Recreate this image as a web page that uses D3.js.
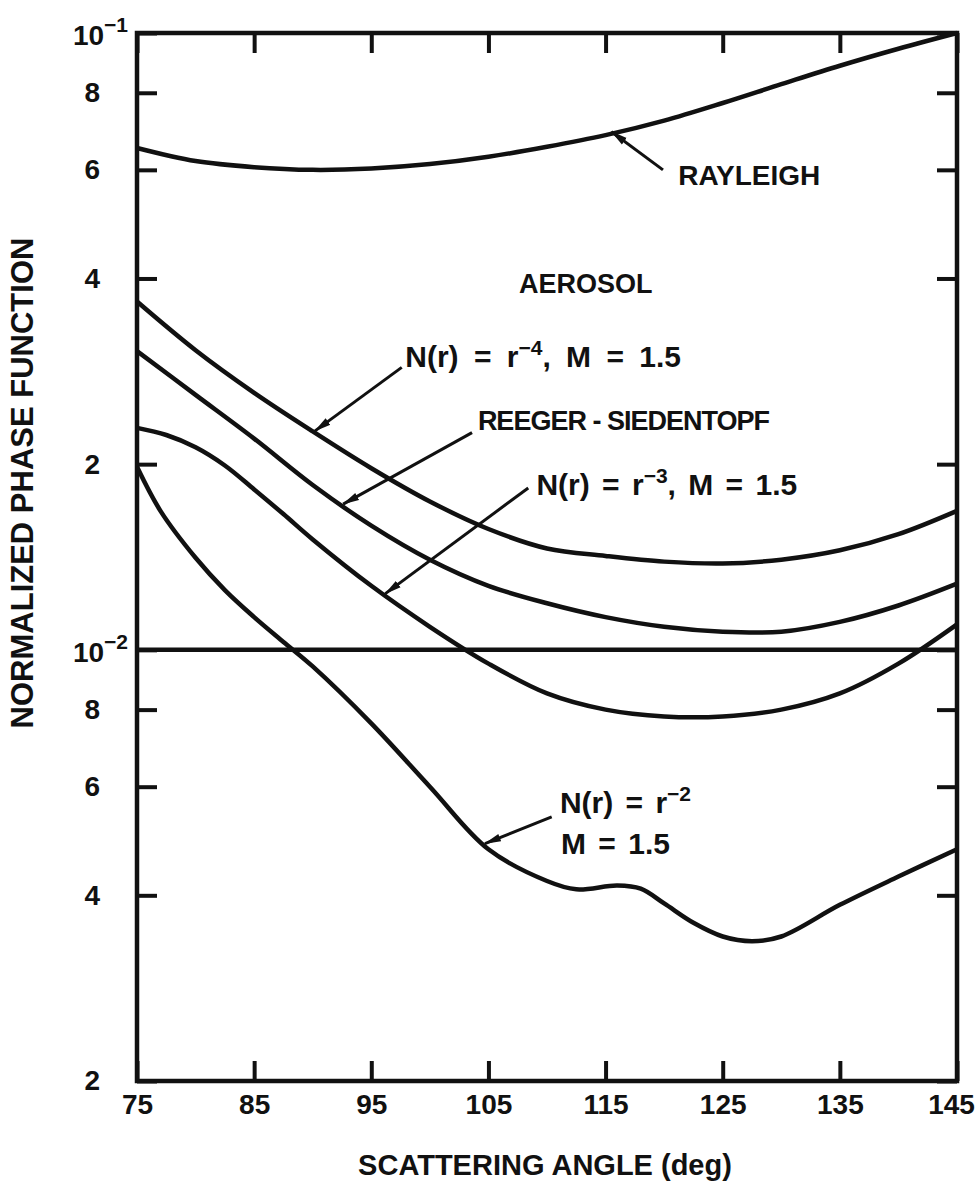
<!DOCTYPE html>
<html lang="en">
<head>
<meta charset="UTF-8">
<title>Normalized phase function vs scattering angle</title>
<script src="https://d3js.org/d3.v7.min.js"></script>
<style>
  body { margin: 0; background: #fff; }
  svg text { font-family: "Liberation Sans", Arial, sans-serif; font-weight: bold; fill: #111; }
</style>
</head>
<body>
<script>
// scattering angles (deg) the curves were read at
const angles = [75, 80, 85, 90, 95, 100, 105, 110, 115, 120, 125, 130, 135, 140, 145];

const rayleigh         = [0.0651, 0.0620, 0.0606, 0.0600, 0.0603, 0.0613, 0.0630, 0.0654, 0.0683, 0.0721, 0.0770, 0.0826, 0.0885, 0.0943, 0.1000];
const powerLaw4        = [0.0367, 0.0306, 0.0261, 0.0226, 0.0197, 0.0174, 0.0157, 0.0146, 0.0142, 0.0139, 0.0138, 0.0140, 0.0145, 0.0154, 0.0168];
const reegerSiedentopf = [0.0305, 0.0259, 0.0220, 0.0185, 0.0159, 0.0140, 0.0127, 0.0119, 0.0113, 0.0109, 0.0107, 0.0107, 0.0111, 0.0118, 0.0128];

// r^-3 curve has a rounded shoulder at the left, read at finer steps there
const anglesR3  = [75, 77.5, 80, 82.5, 85, 87.5, 90, 95, 100, 105, 110, 115, 120, 125, 130, 135, 140, 145];
const powerLaw3 = [0.0229, 0.0223, 0.0213, 0.0199, 0.0182, 0.0166, 0.0151, 0.0127, 0.0109, 0.0095, 0.0085, 0.0080, 0.0078, 0.0078, 0.0080, 0.0085, 0.0095, 0.0110];

// r^-2 curve has a small bump, read at finer steps
const anglesR2  = [75, 77, 80, 82.5, 85, 87.5, 90, 95, 100, 105, 110, 112.5, 116, 118, 120, 122.5, 125, 127.5, 130, 135, 140, 145];
const powerLaw2 = [0.0198, 0.0168, 0.0141, 0.0125, 0.0113, 0.0103, 0.0094, 0.0076, 0.0060, 0.00475, 0.00422, 0.00409, 0.00415, 0.00410, 0.00388, 0.00361, 0.00343, 0.00337, 0.00343, 0.00386, 0.00429, 0.00475];

// horizontal reference line at 10^-2
const refAngles = [75, 145];
const refValues = [0.01, 0.01];

const xTicks = [75, 85, 95, 105, 115, 125, 135, 145];
const yTicks = [0.1, 0.08, 0.06, 0.04, 0.02, 0.01, 0.008, 0.006, 0.004, 0.002];
const yTickLabels = ["10", "8", "6", "4", "2", "10", "8", "6", "4", "2"];
const yTickExps   = ["\u22121", "", "", "", "", "\u22122", "", "", "", ""];

const W = 979, H = 1191;
const plotLeft = 137, plotRight = 957, plotTop = 33, plotBottom = 1081;
const tickLen = 20;

const x = d3.scaleLinear().domain([75, 145]).range([plotLeft, plotRight]);
const y = d3.scaleLog().domain([0.002, 0.1]).range([plotBottom, plotTop]);

const svg = d3.select("body").append("svg")
    .attr("width", W)
    .attr("height", H);

svg.append("rect").attr("width", W).attr("height", H).attr("fill", "#fff");

// ---- axes (ticks point inward on all four sides)
function styleAxis(g) {
    g.select(".domain").remove();
    g.selectAll(".tick line").attr("stroke", "#111").attr("stroke-width", 4);
    g.selectAll(".tick text").attr("font-size", 28).attr("fill", "#111");
}

const xAxisG = svg.append("g")
    .attr("transform", "translate(0," + plotBottom + ")")
    .call(d3.axisBottom(x).tickValues(xTicks).tickSizeInner(-tickLen).tickSizeOuter(0).tickPadding(13))
    .call(styleAxis);

// last label sits against the page edge
xAxisG.selectAll(".tick text").filter(d => d === 145).attr("dx", -6);

svg.append("g")
    .attr("transform", "translate(0," + plotTop + ")")
    .call(d3.axisTop(x).tickValues(xTicks).tickSizeInner(-tickLen).tickSizeOuter(0).tickFormat(""))
    .call(styleAxis);

const yAxisG = svg.append("g")
    .attr("transform", "translate(" + plotLeft + ",0)")
    .call(d3.axisLeft(y).tickValues(yTicks).tickSizeInner(-tickLen).tickSizeOuter(0).tickPadding(37)
        .tickFormat((d, i) => yTickLabels[i]))
    .call(styleAxis);

// powers of ten get a superscript exponent
yAxisG.selectAll(".tick text").each(function (d, i) {
    if (!yTickExps[i]) return;
    const t = d3.select(this).attr("x", -9).attr("dy", "0.42em");
    t.append("tspan").attr("font-size", 21).attr("dy", -13).text(yTickExps[i]);
});

svg.append("g")
    .attr("transform", "translate(" + plotRight + ",0)")
    .call(d3.axisRight(y).tickValues(yTicks).tickSizeInner(-tickLen).tickSizeOuter(0).tickFormat(""))
    .call(styleAxis);

// frame
svg.append("rect")
    .attr("x", plotLeft).attr("y", plotTop)
    .attr("width", plotRight - plotLeft).attr("height", plotBottom - plotTop)
    .attr("fill", "none").attr("stroke", "#111").attr("stroke-width", 4.5);

// axis titles
svg.append("text")
    .attr("x", (plotLeft + plotRight) / 2 - 2)
    .attr("y", 1175)
    .attr("text-anchor", "middle")
    .attr("font-size", 29)
    .text("SCATTERING ANGLE (deg)");

svg.append("text")
    .attr("transform", "translate(33,483) rotate(-90)")
    .attr("text-anchor", "middle")
    .attr("font-size", 31)
    .text("NORMALIZED PHASE FUNCTION");

// ---- curves
const line = d3.line()
    .x(d => x(d[0]))
    .y(d => y(d[1]))
    .curve(d3.curveCatmullRom.alpha(0.5));

const series = [
    { name: "rayleigh", a: angles, v: rayleigh },
    { name: "r4", a: angles, v: powerLaw4 },
    { name: "reeger", a: angles, v: reegerSiedentopf },
    { name: "r3", a: anglesR3, v: powerLaw3 },
    { name: "r2", a: anglesR2, v: powerLaw2 },
    { name: "ref", a: refAngles, v: refValues }
];

svg.append("g").selectAll("path")
    .data(series)
    .join("path")
    .attr("d", s => line(s.a.map((a, i) => [a, s.v[i]])))
    .attr("fill", "none")
    .attr("stroke", "#111")
    .attr("stroke-width", 4.5)
    .attr("stroke-linejoin", "round");

// ---- labels with arrows
svg.append("defs").append("marker")
    .attr("id", "head")
    .attr("markerUnits", "userSpaceOnUse")
    .attr("viewBox", "0 0 17 10")
    .attr("refX", 16).attr("refY", 5)
    .attr("markerWidth", 17).attr("markerHeight", 10)
    .attr("orient", "auto")
    .append("path")
    .attr("d", "M0,1 L17,5 L0,9 Z")
    .attr("fill", "#111");

// value of a series at an angle (log-linear between read points)
function valueAt(s, a) {
    const i = Math.max(1, d3.bisectLeft(s.a, a));
    const a0 = s.a[i - 1], a1 = s.a[i];
    const t = (a - a0) / (a1 - a0);
    return Math.exp(Math.log(s.v[i - 1]) * (1 - t) + Math.log(s.v[i]) * t);
}

const arrows = [
    { series: "rayleigh", tipAngle: 115.5, tail: [119.9, 0.0600] },
    { series: "r4", tipAngle: 90.2, tail: [97.6, 0.0287] },
    { series: "reeger", tipAngle: 92.6, tail: [103.6, 0.0225] },
    { series: "r3", tipAngle: 96.2, tail: [108.4, 0.0183] },
    { series: "r2", tipAngle: 104.7, tail: [110.4, 0.00536] }
];

svg.append("g").selectAll("line")
    .data(arrows)
    .join("line")
    .attr("x1", d => x(d.tail[0]))
    .attr("y1", d => y(d.tail[1]))
    .attr("x2", d => x(d.tipAngle))
    .attr("y2", d => y(valueAt(series.find(s => s.name === d.series), d.tipAngle)) - 2)
    .attr("stroke", "#111")
    .attr("stroke-width", 3)
    .attr("marker-end", "url(#head)");

const labels = [
    { at: [121.2, 0.0567], anchor: "start", size: 28, parts: [["RAYLEIGH"]] },
    { at: [113.3, 0.0379], anchor: "middle", size: 27, parts: [["AEROSOL"]] },
    { at: [97.9, 0.0287], anchor: "start", size: 30, gap: 7, parts: [["N(r) = r"], ["\u22124", "sup"], [", M = 1.5", "base"]] },
    { at: [104.1, 0.0227], anchor: "start", size: 27, spacing: -1, parts: [["REEGER - SIEDENTOPF"]] },
    { at: [109.1, 0.0178], anchor: "start", size: 30, gap: 4, parts: [["N(r) = r"], ["\u22123", "sup"], [", M = 1.5", "base"]] },
    { at: [111.1, 0.00544], anchor: "start", size: 30, gap: 4, parts: [["N(r) = r"], ["\u22122", "sup"]] },
    { at: [111.2, 0.00467], anchor: "start", size: 30, gap: 4, parts: [["M = 1.5"]] }
];

labels.forEach(l => {
    const t = svg.append("text")
        .attr("x", x(l.at[0]))
        .attr("y", y(l.at[1]))
        .attr("text-anchor", l.anchor)
        .attr("font-size", l.size)
        .attr("letter-spacing", l.spacing || 0)
        .style("word-spacing", (l.gap || 0) + "px");
    l.parts.forEach(p => {
        const s = t.append("tspan").text(p[0]);
        if (p[1] === "sup") s.attr("font-size", 21).attr("dy", -12);
        if (p[1] === "base") s.attr("dy", 12);
    });
});
</script>
</body>
</html>
